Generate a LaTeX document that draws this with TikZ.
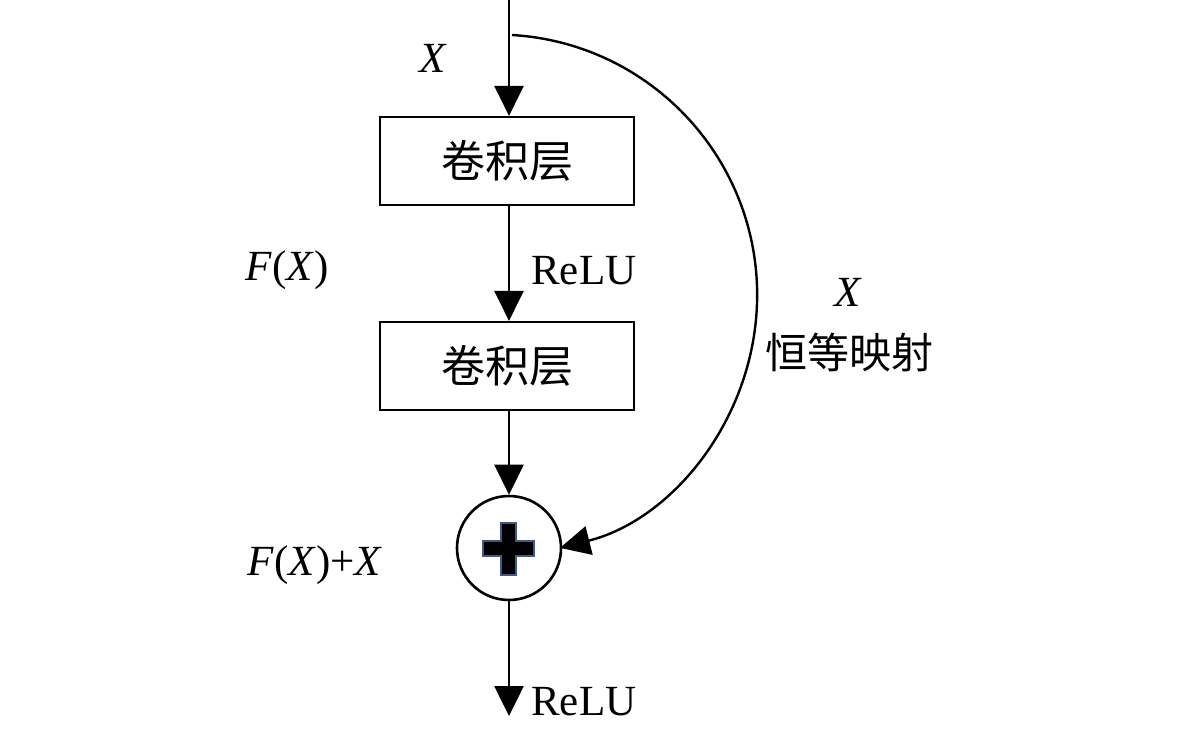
\documentclass[tikz,border=0pt]{standalone}
\usepackage{fontspec}
\setmainfont{Liberation Serif}
\newfontfamily\cjk{Noto Sans CJK SC}
\usetikzlibrary{arrows.meta}
\begin{document}
\begin{tikzpicture}[x=1pt,y=-1pt,
  line width=2.6pt,
  arr/.style={-{Triangle[length=30pt,width=29pt]}},
  layer/.style={draw,line width=2.2pt,minimum width=254pt,minimum height=88pt,inner sep=0pt,font=\cjk\fontsize{44}{50}\selectfont},
  lbl/.style={font=\fontsize{43}{50}\selectfont,inner sep=0pt},
  sumc/.style={draw,circle,line width=2.6pt,minimum size=104pt,inner sep=0pt}]
\useasboundingbox (0,0) rectangle (1181,730);
\coordinate (top) at (509,0);
\coordinate (bot) at (509,716);
\coordinate (skip) at (512,35);
\node[layer] (c1) at (507,161) {卷积层};
\node[layer] (c2) at (507,366) {卷积层};
\node[sumc] (add) at (509,548) {};
\draw[fill=black,draw={rgb,255:red,60;green,90;blue,140},line width=1.5pt]
  (501,523) -- (516,523) -- (516,541) -- (534,541) -- (534,556) -- (516,556) -- (516,575) -- (501,575) -- (501,556) -- (483,556) -- (483,541) -- (501,541) -- cycle;
\draw[arr] (top) -- (top |- c1.north);
\draw[arr] (c1.south -| top) -- (c2.north -| top);
\draw[arr] (c2.south -| top) -- (add.north);
\draw[arr] (add.south) -- (bot);
\draw[arr,line width=2.4pt] (skip) arc[start angle=-86.6,end angle=75.9,radius=260.6];
\node[lbl] (x1) at (433,58) {\textit{X}};
\node[lbl] (fx) at (287,270) {\textit{F}(\textit{X})};
\node[lbl,anchor=west] (relu1) at (530,271) {ReLU};
\node[lbl] (x2) at (848,292) {\textit{X}};
\node[lbl,font=\cjk\fontsize{42}{48}\selectfont] (id) at (849,352) {恒等映射};
\node[lbl] (fxx) at (315,565) {\textit{F}(\textit{X})+\textit{X}};
\node[lbl,anchor=west] (relu2) at (530,702) {ReLU};
\end{tikzpicture}
\end{document}
